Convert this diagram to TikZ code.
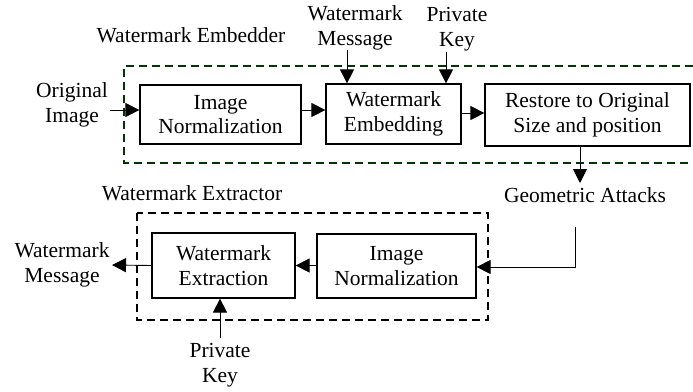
\documentclass[tikz,border=0pt]{standalone}
\usepackage{fontspec}
\setmainfont{Liberation Serif}
\usetikzlibrary{arrows.meta}
\definecolor{dgreen}{RGB}{0,55,0}
\tikzset{
  blk/.style={draw=black, line width=1.2pt, inner sep=0pt, align=center, font=\fontsize{21.5}{24.5}\selectfont},
  lbl/.style={inner sep=0pt, align=center, font=\fontsize{21.5}{24.5}\selectfont},
  conn/.style={draw=black, line width=0.9pt, -{Triangle[length=14pt,width=14pt]}},
  plain/.style={draw=black, line width=0.9pt},
  embbox/.style={draw=dgreen, line width=1.8pt, dash pattern=on 8pt off 5pt},
  extbox/.style={draw=black, line width=1.8pt, dash pattern=on 8pt off 5pt}
}
\begin{document}
\begin{tikzpicture}[x=1pt,y=-1pt]
\useasboundingbox (0,0) rectangle (693,391);
% frames
\draw[embbox] (693,66) -| (124,163) -- (693,163);
\draw[extbox] (137,213) rectangle (488,320);
% labels
\node[lbl] (embl) at (191,35) {Watermark Embedder};
\node[lbl] (extl) at (192,193) {Watermark Extractor};
\node[lbl] (orig) at (72,105) {Original\\Image};
\node[lbl] (wmsg) at (355,28) {Watermark\\Message};
\node[lbl] (pkey) at (457,29) {Private\\Key};
\node[lbl] (geo) at (585,195) {Geometric Attacks};
\node[lbl] (wout) at (62,265) {Watermark\\Message};
\node[lbl] (pkey2) at (220,365) {Private\\Key};
% blocks
\node[blk, minimum width=161pt, minimum height=59pt] (norm1) at (220.5,114.5) {Image\\Normalization};
\node[blk, minimum width=135pt, minimum height=60pt] (emb) at (393.5,114) {Watermark\\Embedding};
\node[blk, minimum width=205pt, minimum height=62pt] (rest) at (587.5,115) {Restore to Original\\Size and position};
\node[blk, minimum width=143pt, minimum height=65pt] (extr) at (223.5,265.5) {Watermark\\Extraction};
\node[blk, minimum width=159pt, minimum height=64pt] (norm2) at (396.5,266) {Image\\Normalization};
% connector helper points
\coordinate (o1) at (110,110);
\coordinate (m1) at (347,50);
\coordinate (k1) at (446,52);
\coordinate (g1) at (580,183);
\coordinate (g2) at (575,227);
\coordinate (g3) at (575,267);
\coordinate (w1) at (112,265);
\coordinate (k2) at (220,338);
% connectors
\draw[conn] (o1) -- (o1 -| norm1.west);
\draw[conn] (norm1.east |- o1) -- (emb.west |- o1);
\draw[conn] (emb.east |- 0,113) -- (rest.west |- 0,113);
\draw[conn] (m1) -- (m1 |- emb.north);
\draw[conn] (k1) -- (k1 |- emb.north);
\draw[conn] (rest.south -| g1) -- (g1);
\draw[conn] (g2) -- (g3) -- (g3 -| norm2.east);
\draw[conn] (norm2.west |- extr.center) -- (extr.east);
\draw[conn] (extr.west) -- (w1);
\draw[conn] (k2) -- (k2 |- extr.south);
\end{tikzpicture}
\end{document}
